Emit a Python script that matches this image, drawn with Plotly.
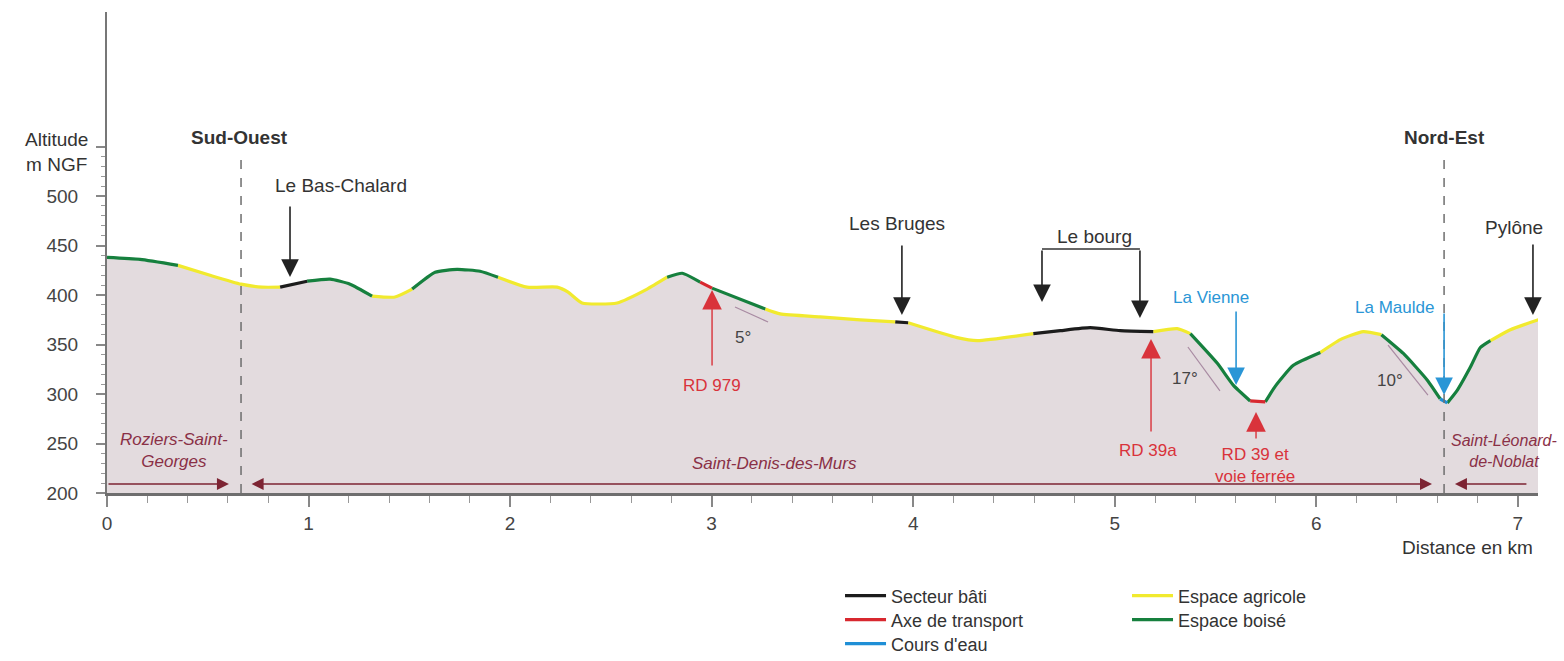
import plotly.graph_objects as go

# ---------------- data ----------------
dist_km = [0.00, 0.164, 0.352, 0.511, 0.665, 0.769, 0.859, 0.993, 1.107, 1.206,
           1.315, 1.429, 1.514, 1.628, 1.737, 1.851, 1.940, 2.084, 2.233, 2.288,
           2.357, 2.531, 2.680, 2.779, 2.854, 2.943, 3.002, 3.266, 3.340, 3.538,
           3.737, 3.911, 3.975, 4.218, 4.318, 4.596, 4.730, 4.878, 5.027, 5.191,
           5.310, 5.375, 5.509, 5.588, 5.672, 5.747, 5.797, 5.886, 6.020, 6.119,
           6.233, 6.323, 6.432, 6.551, 6.615, 6.650, 6.700, 6.764, 6.814, 6.864,
           6.963, 7.102]
alt_m = [438, 436, 430, 420, 411, 408, 408, 414, 416, 411,
         399, 398, 406, 423, 426, 424, 418, 408, 408, 403,
         392, 392, 406, 418, 422, 413, 407, 386, 381, 378,
         375, 373, 372, 357, 354, 361, 364, 367, 364, 363,
         366, 361, 331, 309, 293, 292, 308, 329, 342, 355,
         363, 360, 341, 314, 295, 291, 304, 327, 347, 354,
         365, 375]
# land cover of each interval between consecutive profile points
landcover = ['G', 'G', 'Y', 'Y', 'Y', 'Y', 'K', 'G', 'G', 'G',
             'Y', 'Y', 'G', 'G', 'G', 'G', 'Y', 'Y', 'Y', 'Y',
             'Y', 'Y', 'Y', 'G', 'G', 'R', 'G', 'Y', 'Y', 'Y',
             'Y', 'K', 'Y', 'Y', 'Y', 'K', 'K', 'K', 'K', 'Y',
             'Y', 'G', 'G', 'G', 'R', 'G', 'G', 'G', 'Y', 'Y',
             'Y', 'G', 'G', 'G', 'B', 'G', 'G', 'G', 'G', 'Y', 'Y']
classes = ['Y', 'G', 'K', 'R', 'B']
class_names = {'K': 'Secteur bâti', 'R': 'Axe de transport', 'B': "Cours d'eau",
               'Y': 'Espace agricole', 'G': 'Espace boisé'}
x_ticks = [0, 1, 2, 3, 4, 5, 6, 7]
y_ticks = [200, 250, 300, 350, 400, 450, 500, 550]
y_ticktext = ['200', '250', '300', '350', '400', '450', '500', '']
y_minor = [v for v in range(210, 550, 10) if v % 50 != 0]

# ---------------- styles ----------------
colors = {'K': '#1c1c1c', 'R': '#d8282f', 'B': '#1f8fd6', 'Y': '#f1ea2e', 'G': '#16803e'}
FONT = 'Liberation Sans, Arial, sans-serif'
FILL = '#e3dbde'
TXT = '#333333'
RED = '#d9333b'
BLUE = '#2a96d6'
TOWN = '#8a3046'
SMOOTH = 0.5
# legend slot of each class: (legend id, x container, y container)
legend_slot = {'K': ('legend', 0.5371, 0.0983), 'R': ('legend2', 0.5371, 0.0620),
               'B': ('legend3', 0.5371, 0.0257), 'Y': ('legend4', 0.7206, 0.0983),
               'G': ('legend5', 0.7206, 0.0620)}


def segments(code):
    xs, ys = [], []
    i, n = 0, len(landcover)
    while i < n:
        if landcover[i] == code:
            j = i
            while j < n and landcover[j] == code:
                j += 1
            xs += dist_km[i:j + 1] + [None]
            ys += alt_m[i:j + 1] + [None]
            i = j
        else:
            i += 1
    return xs, ys


fig = go.Figure()
fig.add_trace(go.Scatter(x=dist_km, y=alt_m, mode='lines', fill='tozeroy',
                         fillcolor=FILL,
                         line=dict(width=0, color=FILL, shape='spline', smoothing=SMOOTH),
                         showlegend=False, hoverinfo='skip'))
for c in classes:
    xs, ys = segments(c)
    fig.add_trace(go.Scatter(x=xs, y=ys, mode='lines', name=class_names[c],
                             line=dict(color=colors[c], width=3.2, shape='spline',
                                       smoothing=SMOOTH),
                             legend=legend_slot[c][0], hoverinfo='skip'))

ann = []


def text(x, y, t, size=19, color=TXT, bold=False, italic=False, xanchor='center',
         ref='data'):
    if bold:
        t = '<b>' + t + '</b>'
    if italic:
        t = '<i>' + t + '</i>'
    ann.append(dict(x=x, y=y, xref='x' if ref == 'data' else 'paper',
                    yref='y' if ref == 'data' else 'paper', text=t, showarrow=False,
                    xanchor=xanchor, yanchor='middle',
                    font=dict(family=FONT, size=size, color=color)))


def arrow(x, y, ax, ay, color, width=1.6, size=2.2, head=2, both=False):
    d = dict(x=x, y=y, ax=ax, ay=ay, xref='x', yref='y', axref='x', ayref='y',
             text='', showarrow=True, arrowhead=head, arrowsize=size,
             arrowwidth=width, arrowcolor=color, standoff=0)
    if both:
        d.update(arrowside='end+start', startarrowhead=head, startarrowsize=size)
    ann.append(d)


# axis titles (paper coordinates, outside the plotting area)
text(-0.0356, 0.709, 'Altitude<br>m NGF', ref='paper')
text(0.998, -0.114, 'Distance en km', xanchor='right', ref='paper')
# orientation
text(0.655, 559.7, 'Sud-Ouest', bold=True)
text(6.634, 559.7, 'Nord-Est', bold=True)
# places
text(1.161, 510.2, 'Le Bas-Chalard')
arrow(0.908, 418.3, 0.908, 491.0, '#222')
text(3.920, 472.8, 'Les Bruges')
arrow(3.944, 379.9, 3.944, 451.6, '#222')
text(4.902, 458.7, 'Le bourg')
arrow(4.639, 393.0, 4.639, 446.5, '#222')
arrow(5.125, 376.8, 5.125, 446.5, '#222')
text(6.981, 467.8, 'Pylône')
arrow(7.075, 379.9, 7.075, 452.6, '#222')
# rivers
text(5.478, 398.0, 'La Vienne', size=17, color=BLUE)
arrow(5.602, 309.1, 5.602, 384.9, BLUE)
text(6.390, 387.9, 'La Maulde', size=17, color=BLUE)
arrow(6.634, 299.0, 6.634, 382.9, BLUE)
# roads
text(3.002, 309.1, 'RD 979', size=17, color=RED)
arrow(3.002, 405.1, 3.002, 327.3, RED, width=1.4, size=2.8)
text(5.165, 243.4, 'RD 39a', size=17, color=RED)
arrow(5.180, 355.6, 5.180, 260.6, RED, width=1.4, size=2.8)
text(5.696, 227.3, 'RD 39 et<br>voie ferrée', size=17, color=RED)
arrow(5.701, 281.8, 5.701, 253.6, RED, width=1.4, size=2.8)
# slopes
text(3.156, 357.6, '5°', size=17, color='#444')
text(5.349, 315.2, '17°', size=17, color='#444')
text(6.366, 313.2, '10°', size=17, color='#444')
# communes
text(0.332, 243.4, 'Roziers-Saint-<br>Georges', size=17, color=TOWN, italic=True)
text(3.314, 230.3, 'Saint-Denis-des-Murs', size=17, color=TOWN, italic=True)
text(6.930, 242.4, 'Saint-Léonard-<br>de-Noblat', size=16, color=TOWN, italic=True)
arrow(0.605, 209.1, 0.0, 209.1, '#7d2433', width=1.5, size=1.6)
arrow(6.574, 209.1, 0.710, 209.1, '#7d2433', width=1.5, size=1.6, both=True)
arrow(6.688, 209.1, 7.050, 209.1, '#7d2433', width=1.5, size=1.6)

shapes = [
    dict(type='line', xref='x', yref='y', x0=0.665, x1=0.665, y0=200, y1=539.5,
         line=dict(color='#6e6e6e', width=1.5, dash='dash')),
    dict(type='line', xref='x', yref='y', x0=6.634, x1=6.634, y0=200, y1=539.5,
         line=dict(color='#6e6e6e', width=1.5, dash='dash')),
    dict(type='line', xref='x', yref='y', x0=4.639, x1=5.125, y0=446.5, y1=446.5,
         line=dict(color='#333', width=1.6)),
    dict(type='line', xref='x', yref='y', x0=3.116, x1=3.280, y0=387.9, y1=372.8,
         line=dict(color='#a88aa2', width=1.2)),
    dict(type='line', xref='x', yref='y', x0=5.363, x1=5.522, y0=347.5, y1=303.1,
         line=dict(color='#a88aa2', width=1.2)),
    dict(type='line', xref='x', yref='y', x0=6.356, x1=6.554, y0=349.5, y1=299.0,
         line=dict(color='#a88aa2', width=1.2)),
]

legends = {}
for c, (lid, lx, ly) in legend_slot.items():
    legends[lid] = dict(x=lx, y=ly, xref='container', yref='container',
                        xanchor='left', yanchor='middle',
                        bgcolor='rgba(0,0,0,0)', font=dict(size=18, color=TXT),
                        itemwidth=41, tracegroupgap=0)

fig.update_layout(
    width=1564, height=661,
    margin=dict(l=107, r=26, t=12, b=168, autoexpand=False),
    paper_bgcolor='white', plot_bgcolor='white',
    font=dict(family=FONT, size=19, color=TXT),
    annotations=ann, shapes=shapes,
    xaxis=dict(range=[0, 7.1], showgrid=False, zeroline=False, showline=True,
               linecolor='#6e6e6e', linewidth=3, ticks='outside',
               tickmode='array', tickvals=x_ticks, ticklen=11, tickwidth=1.5,
               tickcolor='#888', tickfont=dict(size=19, color='#444'),
               minor=dict(dtick=0.2, tick0=0, ticks='outside', ticklen=7,
                          tickwidth=1, tickcolor='#999')),
    yaxis=dict(range=[200, 686], showgrid=False, zeroline=False, showline=True,
               linecolor='#777', linewidth=2, ticks='outside',
               tickmode='array', tickvals=y_ticks, ticktext=y_ticktext,
               ticklen=9, tickwidth=1.5, tickcolor='#888',
               tickfont=dict(size=19, color='#444'), ticklabelstandoff=14,
               minor=dict(tickmode='array', tickvals=y_minor, ticks='outside',
                          ticklen=4, tickwidth=1, tickcolor='#999')),
    **legends,
)

fig.write_html('out.html', config={'displayModeBar': False},
               post_script="document.body.style.margin='0';")
